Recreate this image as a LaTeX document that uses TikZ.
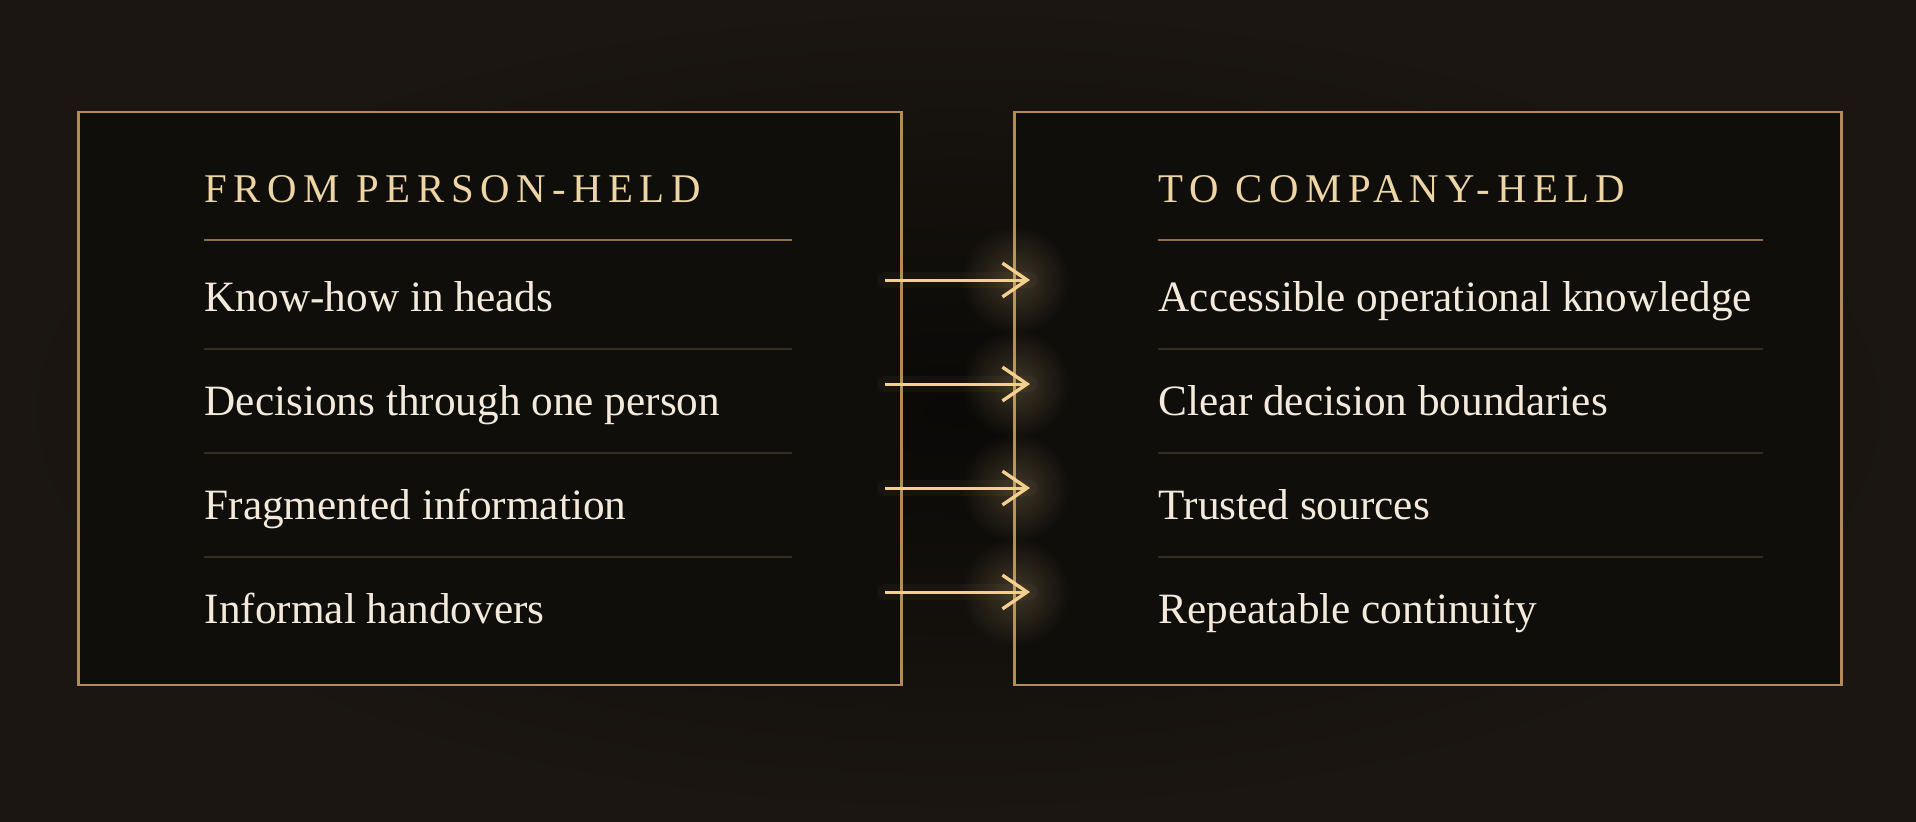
\documentclass[tikz,border=0pt]{standalone}
\usepackage{fontspec}
\setmainfont{Liberation Serif}
\newfontfamily\headfont[LetterSpace=16]{Liberation Serif}
\usepackage{xcolor}
\usepackage{tikz}
\usetikzlibrary{arrows.meta,fadings}

\definecolor{bgdark}{HTML}{0A0907}
\definecolor{bgedge}{HTML}{1B1611}
\definecolor{panelfill}{HTML}{100E0B}
\definecolor{gold}{HTML}{B38B57}
\definecolor{headgold}{HTML}{EDD6A3}
\definecolor{cream}{HTML}{F3EADB}
\definecolor{rulegold}{HTML}{8E7047}
\definecolor{rowrule}{HTML}{342D22}
\definecolor{arrowgold}{HTML}{F4D08E}

\tikzfading[name=softglow, inner color=transparent!40, outer color=transparent!100]

\tikzset{
    panel/.style={draw=gold, line width=0.75pt, fill=panelfill, inner sep=0pt},
    headtext/.style={anchor=base west, inner sep=0pt, text=headgold,
        font=\headfont\fontsize{11.6}{14}\selectfont},
    rowtext/.style={anchor=base west, inner sep=0pt, text=cream,
        font=\fontsize{12.3}{15}\selectfont},
    headrule/.style={draw=rulegold, line width=0.45pt},
    rowrule/.style={draw=rowrule, line width=0.35pt},
    glowline/.style={draw=arrowgold, line width=#1, opacity=0.04, line cap=round},
    goldarrow/.style={draw=arrowgold, line width=0.85pt,
        -{Straight Barb[length=7pt, width=9.6pt, line width=0.95pt]}}
}

\begin{document}
\begin{tikzpicture}[x=0.01cm, y=-0.01cm]
        % background with dark middle
        \useasboundingbox (0,0) rectangle (1916,821);
        \shade[inner color=bgdark, outer color=bgedge] (0,0) rectangle (1916,821);

        % the two panels
        \draw (490,398.5) node[panel, minimum width=8.22cm, minimum height=5.73cm] (from) {};
        \draw (1428,398.5) node[panel, minimum width=8.26cm, minimum height=5.73cm] (to) {};

        % headings and their rules
        \draw (204,202) node[headtext] (fromhead) {FROM PERSON-HELD};
        \draw (1158,202) node[headtext] (tohead) {TO COMPANY-HELD};
        \draw[headrule] (204,240) -- (792,240);
        \draw[headrule] (1158,240) -- (1763,240);

        % left column
        \draw (204,311) node[rowtext] (from1) {Know-how in heads};
        \draw (204,415) node[rowtext] (from2) {Decisions through one person};
        \draw (204,519) node[rowtext] (from3) {Fragmented information};
        \draw (204,623) node[rowtext] (from4) {Informal handovers};

        % right column
        \draw (1158,311) node[rowtext] (to1) {Accessible operational knowledge};
        \draw (1158,415) node[rowtext] (to2) {Clear decision boundaries};
        \draw (1158,519) node[rowtext] (to3) {Trusted sources};
        \draw (1158,623) node[rowtext] (to4) {Repeatable continuity};

        % faint lines between rows
        \foreach \y in {349,453,557} {
            \draw[rowrule] (204,\y) -- (792,\y);
            \draw[rowrule] (1158,\y) -- (1763,\y);
        }

        % arrows across the gap, with a soft glow
        \foreach \n/\y in {1/280,2/384,3/488,4/592} {
            \coordinate (s\n) at (885,\y);
            \coordinate (e\n) at (1030,\y);
            \fill[arrowgold, opacity=0.35, path fading=softglow] (e\n) ++(-15,0) circle (55);
            \draw[glowline=4.5pt] (s\n) -- (e\n);
            \draw[goldarrow] (s\n) -- (e\n);
        }

    \end{tikzpicture}
\end{document}
